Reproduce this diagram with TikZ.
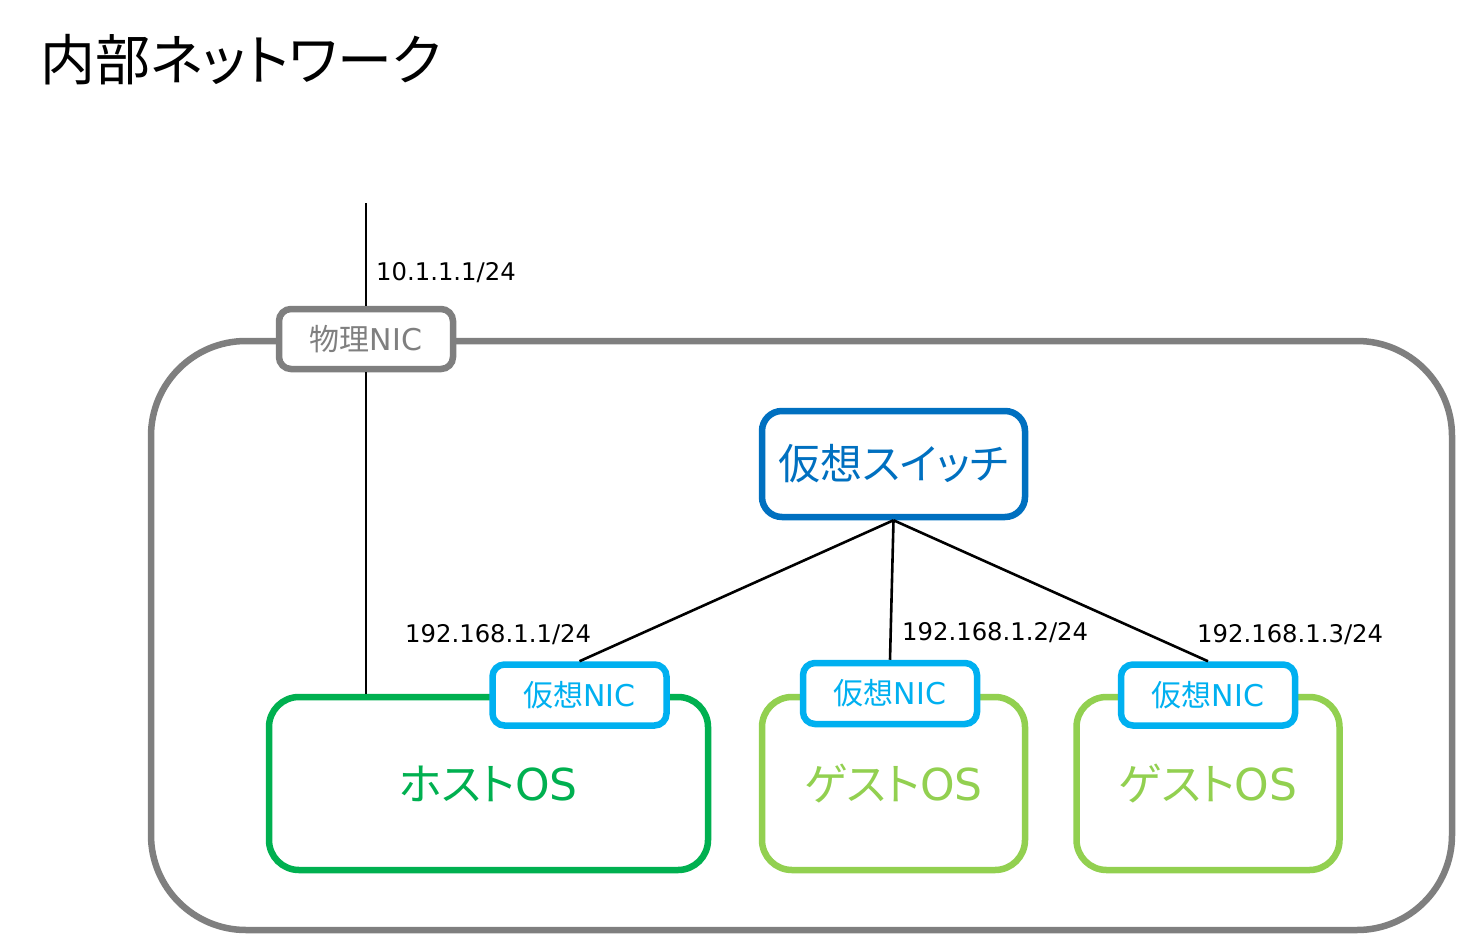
\documentclass[tikz,border=0pt]{standalone}
\usepackage{fontspec}
\setmainfont{DejaVu Sans}
\newfontfamily\jp[RawFeature=+palt]{Noto Sans CJK JP}
\definecolor{nicgray}{HTML}{7F7F7F}
\definecolor{swblue}{HTML}{0070C0}
\definecolor{hostgreen}{HTML}{00B050}
\definecolor{guestgreen}{HTML}{92D050}
\definecolor{niccyan}{HTML}{00B0F0}

\begin{document}
\begin{tikzpicture}[x=1pt, y=-1pt,
  box/.style = {draw, line width=6.5pt, rounded corners=12pt, fill=white, inner sep=0pt},
  wire/.style = {line width=2.6pt},
  addr/.style = {anchor=west, inner sep=0pt, font=\fontsize{24.3}{26}\selectfont}]
\useasboundingbox (0,0) rectangle (1458,936);
% title
\node[anchor=west, inner sep=0pt, font=\fontsize{55}{58}\selectfont\jp] (title) at (40,60) {内部ネットワーク};
% host machine
\draw[nicgray, line width=6.5pt, rounded corners=95pt] (151,341) rectangle (1452,930);
% operating systems
\node[box, draw=hostgreen, text=hostgreen, rounded corners=30pt, minimum width=439pt, minimum height=173pt,
  font=\fontsize{44}{46}\selectfont] (host) at (488.5,783.5) {{\jp ホスト}OS};
\foreach \x/\n in {893.5/guestA, 1208/guestB}
  \node[box, draw=guestgreen, text=guestgreen, rounded corners=30pt, minimum width=263pt, minimum height=173pt,
    font=\fontsize{44}{46}\selectfont] (\n) at (\x,783.5) {{\jp ゲスト}OS};
% virtual nics
\foreach \x/\y/\n in {579.5/695/vnicA, 890/693.5/vnicB, 1208/695/vnicC}
  \node[box, draw=niccyan, text=niccyan, minimum width=174pt, minimum height=61pt,
    font=\fontsize{30}{32}\selectfont] (\n) at (\x,\y) {{\jp 仮想}NIC};
% physical nic
\node[box, draw=nicgray, text=nicgray, minimum width=174pt, minimum height=60pt,
  font=\fontsize{30}{32}\selectfont] (pnic) at (366,339) {{\jp 物理}NIC};
% virtual switch
\node[box, draw=swblue, text=swblue, rounded corners=20pt, minimum width=263pt, minimum height=106pt,
  font=\fontsize{42}{44}\selectfont\jp] (vswitch) at (893.5,464) {仮想スイッチ};
% wires
\coordinate (uplink) at (366,203);
\draw[wire] (uplink) -- (pnic.north);
\draw[wire] (pnic.south) -- (pnic.south |- host.north);
\foreach \n in {vnicA, vnicB, vnicC}
  \draw[wire] (vswitch.south) -- (\n.north);
% addresses
\node[addr] (ipP) at (376,273) {10.1.1.1/24};
\node[addr] (ipA) at (405,635) {192.168.1.1/24};
\node[addr] (ipB) at (902,633) {192.168.1.2/24};
\node[addr] (ipC) at (1197,635) {192.168.1.3/24};
\end{tikzpicture}
\end{document}
